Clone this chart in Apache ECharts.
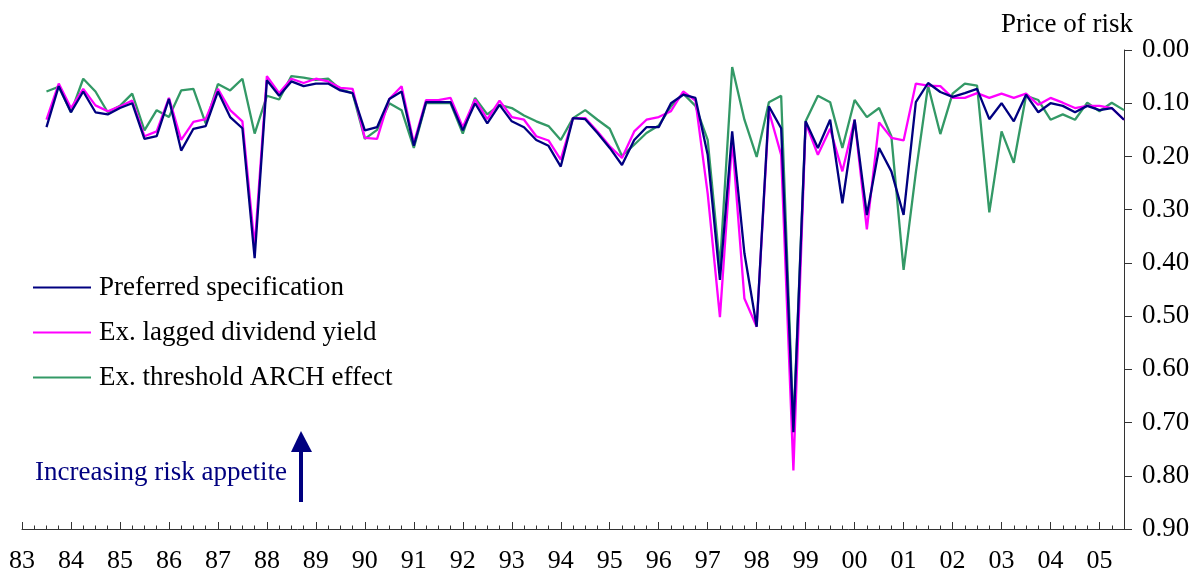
<!DOCTYPE html>
<html><head><meta charset="utf-8">
<script src="https://cdn.jsdelivr.net/npm/echarts@6/dist/echarts.min.js"></script>
<style>html,body{margin:0;padding:0;background:#fff}#c{width:1203px;height:579px}</style>
</head><body><div id="c"></div>
<script>
// Tick labels for the year axis (1983 .. 2005)
const yearLabels = ['83','84','85','86','87','88','89','90','91','92','93','94','95','96','97','98','99','00','01','02','03','04','05'];
// Quarterly observations 1983Q3 .. 2005Q3
const quarters = [];
for (let y = 1983; y <= 2005; y++) {
  for (let q = 1; q <= 4; q++) {
    if ((y === 1983 && q < 3) || (y === 2005 && q > 3)) continue;
    quarters.push(y + 'Q' + q);
  }
}
const preferred = [
0.145,0.068,0.117,0.078,0.117,0.121,0.109,0.100,0.167,0.162,
0.092,0.189,0.148,0.143,0.078,0.126,0.147,0.391,0.057,0.086,
0.059,0.068,0.063,0.063,0.076,0.081,0.151,0.145,0.092,0.078,
0.180,0.098,0.098,0.098,0.151,0.100,0.138,0.103,0.134,0.145,
0.169,0.180,0.219,0.128,0.130,0.156,0.184,0.216,0.169,0.145,
0.145,0.100,0.084,0.090,0.197,0.432,0.153,0.382,0.520,0.106,
0.147,0.718,0.134,0.184,0.131,0.288,0.131,0.310,0.184,0.228,
0.310,0.098,0.062,0.079,0.088,0.081,0.073,0.130,0.100,0.134,
0.084,0.117,0.100,0.105,0.117,0.105,0.113,0.109,0.131];
const exDividend = [
0.131,0.063,0.109,0.073,0.104,0.115,0.106,0.095,0.162,0.153,
0.090,0.169,0.135,0.130,0.073,0.113,0.134,0.369,0.049,0.081,
0.054,0.062,0.054,0.059,0.071,0.073,0.165,0.167,0.092,0.068,
0.175,0.094,0.094,0.090,0.145,0.093,0.130,0.095,0.126,0.131,
0.162,0.170,0.206,0.128,0.128,0.153,0.181,0.203,0.153,0.131,
0.126,0.115,0.078,0.095,0.270,0.502,0.169,0.467,0.520,0.115,
0.197,0.790,0.137,0.197,0.148,0.228,0.131,0.337,0.136,0.165,
0.170,0.063,0.067,0.068,0.090,0.090,0.081,0.090,0.082,0.090,
0.082,0.103,0.090,0.099,0.109,0.105,0.105,0.109,0.131];
const exThreshold = [
0.078,0.069,0.117,0.054,0.078,0.117,0.105,0.082,0.151,0.113,
0.126,0.076,0.073,0.138,0.064,0.076,0.054,0.157,0.086,0.093,
0.049,0.052,0.056,0.054,0.074,0.081,0.167,0.150,0.100,0.113,
0.184,0.100,0.100,0.100,0.157,0.090,0.121,0.103,0.109,0.123,
0.134,0.143,0.169,0.128,0.113,0.131,0.148,0.199,0.178,0.156,
0.142,0.106,0.082,0.105,0.169,0.407,0.032,0.131,0.201,0.098,
0.086,0.709,0.134,0.086,0.098,0.184,0.094,0.126,0.109,0.162,
0.413,0.230,0.067,0.158,0.082,0.063,0.067,0.305,0.153,0.212,
0.086,0.094,0.131,0.121,0.131,0.099,0.115,0.099,0.113];
const seriesNames = ['Preferred specification','Ex. lagged dividend yield','Ex. threshold ARCH effect'];
const seriesColors = ['#000080','#ff00ff','#339966'];

const toX = s => +s.slice(0, 4) + (+s.slice(5) - 1) / 4;
const pairs = arr => quarters.map((q, i) => [toX(q), arr[i]]);
const FONT = '"Liberation Serif", "Times New Roman", serif';

const chart = echarts.init(document.getElementById('c'), null, {renderer: 'canvas'});
chart.setOption({
  animation: false,
  backgroundColor: '#fff',
  title: {
    text: 'Price of risk', right: 65, top: 6,
    textStyle: {fontFamily: FONT, fontSize: 27, fontWeight: 'normal', color: '#000'}
  },
  legend: {
    data: seriesNames, orient: 'vertical', left: 33, top: 274, padding: 0,
    icon: 'rect', itemWidth: 58, itemHeight: 2, itemGap: 18,
    textStyle: {fontFamily: FONT, fontSize: 27, color: '#000', padding: [0,0,0,3]}
  },
  grid: {left: 22, right: 79, top: 50, bottom: 50, containLabel: false},
  xAxis: [{
    type: 'value', min: 1983, max: 2005.5, interval: 1, position: 'bottom',
    axisLine: {show: true, onZero: false, lineStyle: {color: '#333', width: 1}},
    axisTick: {show: true, inside: true, length: 7, lineStyle: {color: '#333'}},
    axisLabel: {
      margin: 19, fontFamily: FONT, fontSize: 26, color: '#000',
      formatter: v => Number.isInteger(v) ? (yearLabels[v - 1983] || '') : ''
    },
    splitLine: {show: false}
  }, {
    type: 'value', min: 1983, max: 2005.5, interval: 0.25, position: 'bottom',
    axisLine: {show: false, onZero: false},
    axisTick: {show: true, inside: true, length: 3.5, lineStyle: {color: '#333'}},
    axisLabel: {show: false},
    splitLine: {show: false}
  }],
  yAxis: {
    type: 'value', position: 'right', inverse: true, min: 0, max: 0.9, interval: 0.1,
    axisLine: {show: true, lineStyle: {color: '#333', width: 1}},
    axisTick: {show: true, inside: false, length: 8, lineStyle: {color: '#333'}},
    axisLabel: {margin: 18, fontFamily: FONT, fontSize: 27, color: '#000', formatter: v => v.toFixed(2)},
    splitLine: {show: false}
  },
  series: [preferred, exDividend, exThreshold].map((arr, k) => ({
    name: seriesNames[k], type: 'line', xAxisIndex: 0, data: pairs(arr),
    showSymbol: false, symbol: 'none', color: seriesColors[k],
    lineStyle: {color: seriesColors[k], width: 2.3}, z: 3 - k
  })),
  graphic: [
    {type: 'text', left: 35, top: 459,
     style: {text: 'Increasing risk appetite', fill: '#000080', font: '27px ' + FONT}},
    {type: 'rect', shape: {x: 299, y: 450, width: 4, height: 52}, style: {fill: '#000080'}},
    {type: 'polygon', shape: {points: [[291, 452], [301, 431], [312, 452]]}, style: {fill: '#000080'}}
  ]
});
</script></body></html>
